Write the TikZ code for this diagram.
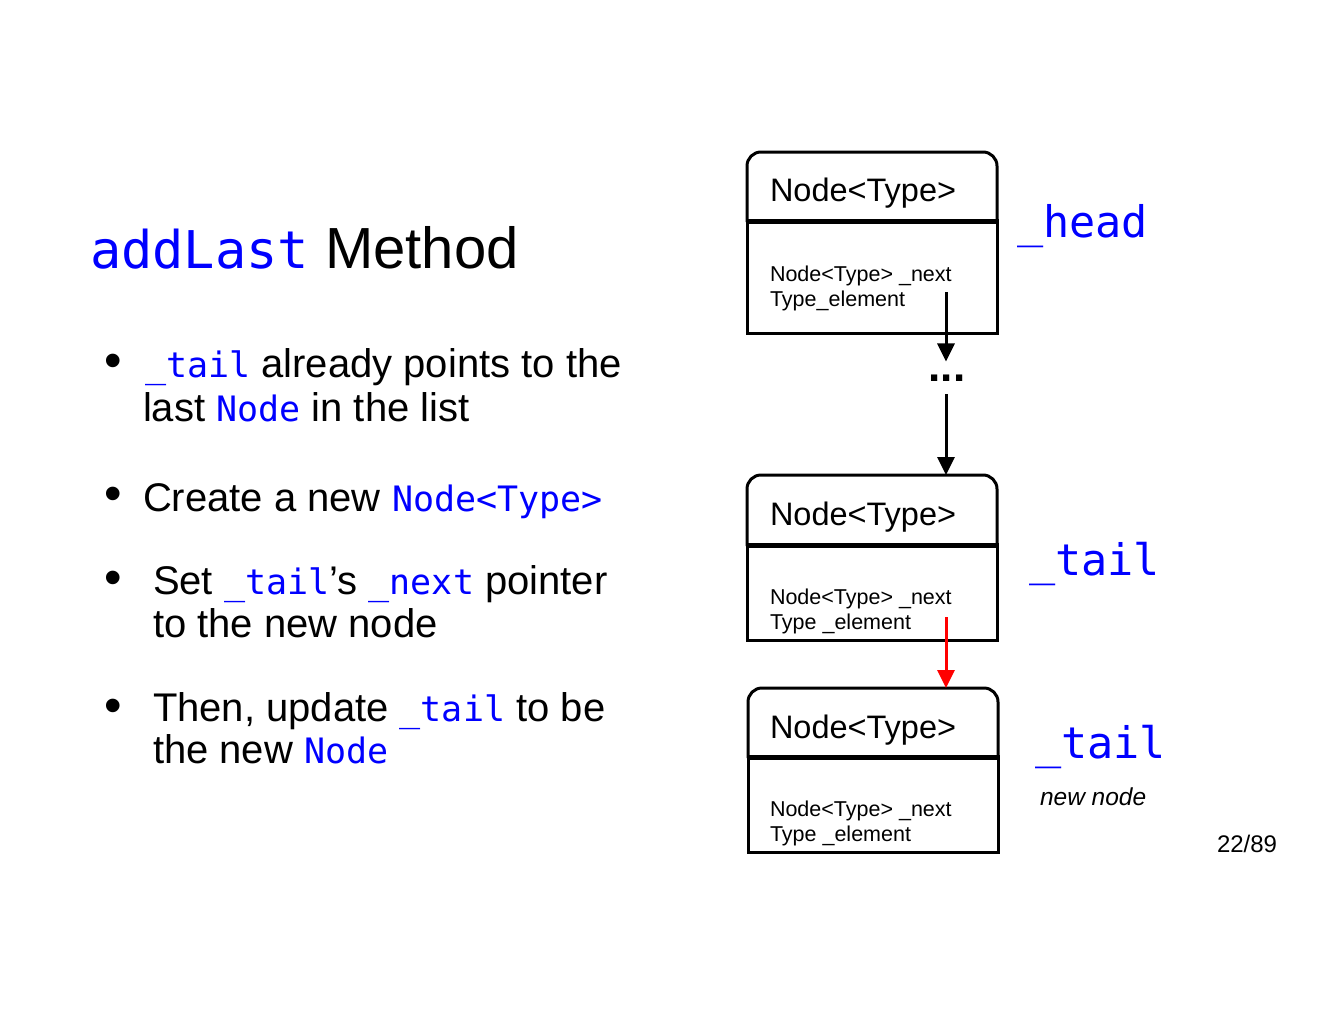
\documentclass[tikz,border=0pt]{standalone}
\usepackage{fontspec}
\setmainfont{Liberation Sans}
\newfontfamily\codefont{DejaVu Sans Mono}
\usetikzlibrary{arrows.meta}
\definecolor{codeblue}{RGB}{0,0,255}
\definecolor{ptrred}{RGB}{255,0,0}
\newcommand\fs[1]{\fontsize{#1}{#1}\selectfont}
% code words inside the bullet text
\newcommand\bcd[1]{{\codefont\fs{35}\color{codeblue}#1}}
\begin{document}
\begin{tikzpicture}[x=1pt,y=-1pt,
  every node/.style={inner sep=0pt,outer sep=0pt},
  txt/.style={anchor=base west,font=\fs{40}},
  bul/.style={anchor=base west,font=\fs{50}},
  hdrbox/.style={anchor=north west,minimum width=250pt,minimum height=68.5pt},
  bodybox/.style={anchor=north west,draw,line width=3pt,minimum width=250pt},
  boxline/.style={line width=3pt,line cap=rect},
  hdrtext/.style={anchor=base west,font=\fs{32.5}},
  smalltext/.style={anchor=base west,font=\fs{21.5}},
  ptrlabel/.style={anchor=base west,font=\codefont\fs{43.5},text=codeblue},
  ptr/.style={line width=3pt,-{Triangle[width=17pt,length=18pt]}}]
\useasboundingbox[fill=white] (0,0) rectangle (1320,1020);

% title
\node[anchor=base west] (title) at (90,268) {{\codefont\fs{52}\color{codeblue}addLast}\fs{58} Method};

% bullet list
\node[bul] (d1) at (104,377) {•};
\node[txt] (l1a) at (145,377) {\bcd{\_tail} already points to the};
\node[txt] (l1b) at (143,421) {last \bcd{Node} in the list};
\node[bul] (d2) at (104,510) {•};
\node[txt] (l2a) at (143,511.5) {Create a new \bcd{Node<Type>}};
\node[bul] (d3) at (104,594.5) {•};
\node[txt] (l3a) at (153,594.5) {Set \bcd{\_tail}’s \bcd{\_next} pointer};
\node[txt] (l3b) at (153,637) {to the new node};
\node[bul] (d4) at (104,722) {•};
\node[txt] (l4a) at (153,721) {Then, update \bcd{\_tail} to be};
\node[txt] (l4b) at (153,763.5) {the new \bcd{Node}};

% first node of the list
\node[hdrbox] (h1) at (747,152) {};
\draw[boxline,rounded corners=14pt] (h1.south west) -- (h1.north west) -- (h1.north east) -- (h1.south east);
\draw[boxline] (h1.south west) -- (h1.south east);
\node[bodybox,minimum height=110.5pt] (b1) at (747,222.5) {};
\node[hdrtext] (h1t) at (770,201) {Node<Type>};
\node[smalltext] (b1a) at (770,281) {Node<Type> \_next};
\node[smalltext] (b1b) at (770,306) {Type\_element};
\node[ptrlabel] (headl) at (1017,237) {\_head};

% elided middle of the list
\node[anchor=base,font=\bfseries\fs{44},inner ysep=13pt] (dots) at (947,381) {...};

% current last node
\node[hdrbox,minimum height=69.5pt] (h2) at (747,475) {};
\draw[boxline,rounded corners=14pt] (h2.south west) -- (h2.north west) -- (h2.north east) -- (h2.south east);
\draw[boxline] (h2.south west) -- (h2.south east);
\node[bodybox,minimum height=93.5pt] (b2) at (747,546.5) {};
\node[hdrtext] (h2t) at (770,525) {Node<Type>};
\node[smalltext] (b2a) at (770,604) {Node<Type> \_next};
\node[smalltext] (b2b) at (770,629) {Type \_element};
\node[ptrlabel] (taill) at (1029,575) {\_tail};

% new node
\node[hdrbox] (h3) at (748,688) {};
\draw[boxline,rounded corners=14pt] (h3.south west) -- (h3.north west) -- (h3.north east) -- (h3.south east);
\draw[boxline] (h3.south west) -- (h3.south east);
\node[bodybox,minimum height=93.5pt] (b3) at (748,758.5) {};
\node[hdrtext] (h3t) at (770,738) {Node<Type>};
\node[smalltext] (b3a) at (770,816) {Node<Type> \_next};
\node[smalltext] (b3b) at (770,841) {Type \_element};
\node[ptrlabel] (newtaill) at (1035,758.5) {\_tail};
\node[anchor=base west,font=\itshape\fs{24.5}] (newl) at (1040,805) {new node};

% pointers
\coordinate (n1) at (946,292);
\coordinate (n2) at (946,617);
\draw[ptr] (n1) -- (dots.north -| n1);
\draw[ptr] (dots.south -| n1) -- (h2.north -| n1);
\draw[ptr,ptrred] (n2) -- (h3.north -| n2);

% slide number
\node[anchor=base west,font=\fs{24}] (page) at (1217,852) {22/89};
\end{tikzpicture}
\end{document}
